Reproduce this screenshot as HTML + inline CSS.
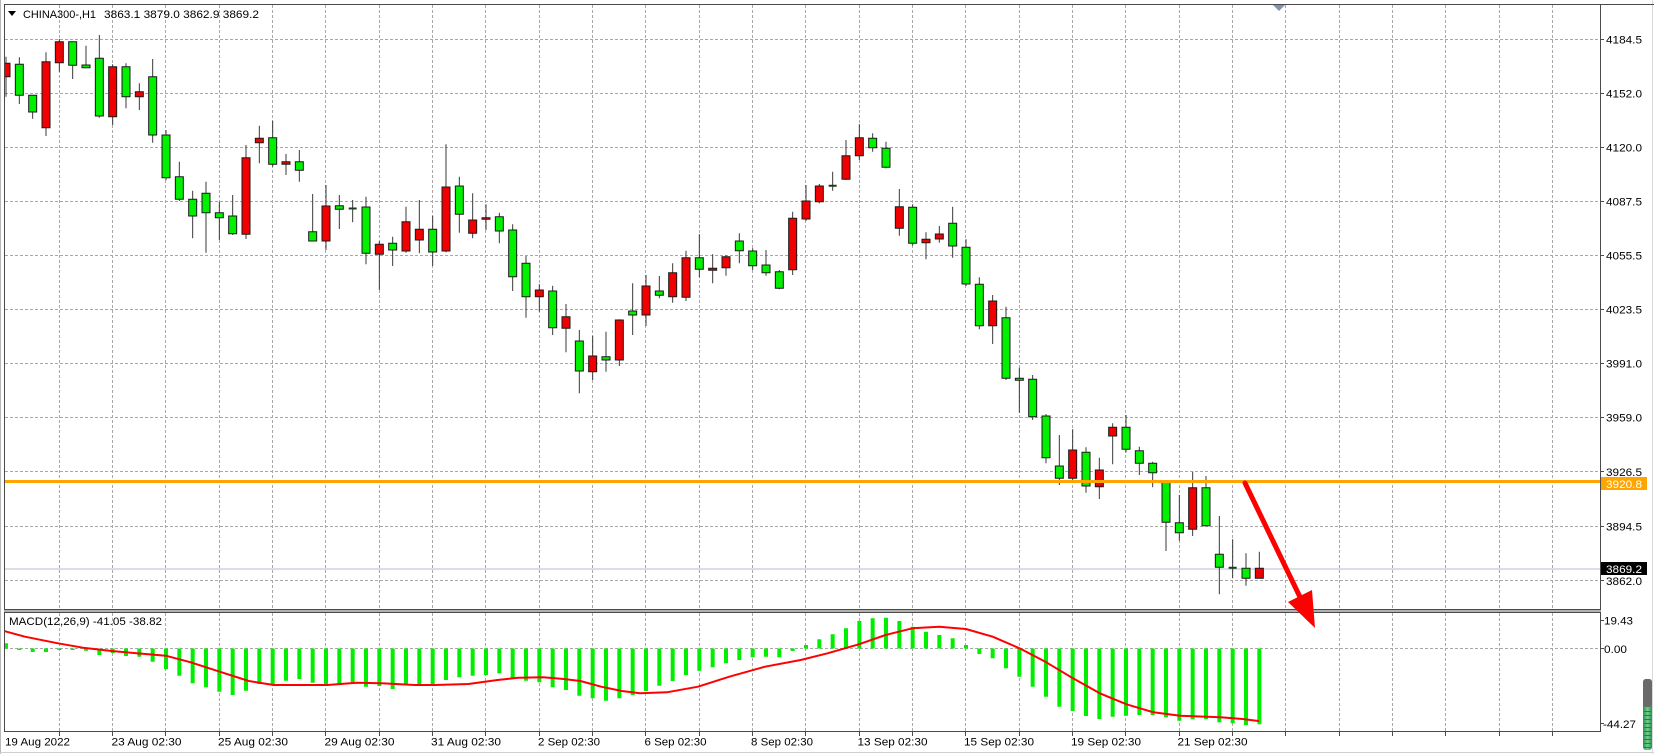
<!DOCTYPE html>
<html>
<head>
<meta charset="utf-8">
<style>
html,body{margin:0;padding:0;background:#fff;}
body{width:1654px;height:754px;overflow:hidden;}
svg{display:block;}
text{font-family:"Liberation Sans",Arial,sans-serif;fill:#000;}
</style>
</head>
<body>
<svg width="1654" height="754" viewBox="0 0 1654 754" xmlns="http://www.w3.org/2000/svg">
<defs>
<clipPath id="main"><rect x="5" y="5" width="1595" height="604"/></clipPath>
<clipPath id="sub"><rect x="5" y="613" width="1595" height="118"/></clipPath>
<linearGradient id="sg" x1="0" x2="1" y1="0" y2="0"><stop offset="0" stop-color="#2f8f4f"/><stop offset="0.5" stop-color="#6fcf8f"/><stop offset="1" stop-color="#2f8f4f"/></linearGradient>
</defs>
<rect x="0" y="0" width="1654" height="754" fill="#fff"/>
<!-- outer frame -->
<line x1="0.5" y1="0" x2="0.5" y2="754" stroke="#b8b8b8"/>
<line x1="0" y1="752.5" x2="1654" y2="752.5" stroke="#d0d0d0"/>
<line x1="1652.5" y1="0" x2="1652.5" y2="754" stroke="#d8d8d8"/>

<!-- grid main -->
<g stroke="#a8a8a8" stroke-width="1" stroke-dasharray="3 2" fill="none">
<path d="M59.5 5V609M112.5 5V609M165.5 5V609M219.5 5V609M272.5 5V609M325.5 5V609M379.5 5V609M432.5 5V609M485.5 5V609M539.5 5V609M592.5 5V609M645.5 5V609M699.5 5V609M752.5 5V609M805.5 5V609M859.5 5V609M912.5 5V609M965.5 5V609M1019.5 5V609M1072.5 5V609M1125.5 5V609M1179.5 5V609M1232.5 5V609M1285.5 5V609M1339.5 5V609M1392.5 5V609M1445.5 5V609M1499.5 5V609M1552.5 5V609"/>
<path d="M59.5 613V731M112.5 613V731M165.5 613V731M219.5 613V731M272.5 613V731M325.5 613V731M379.5 613V731M432.5 613V731M485.5 613V731M539.5 613V731M592.5 613V731M645.5 613V731M699.5 613V731M752.5 613V731M805.5 613V731M859.5 613V731M912.5 613V731M965.5 613V731M1019.5 613V731M1072.5 613V731M1125.5 613V731M1179.5 613V731M1232.5 613V731M1285.5 613V731M1339.5 613V731M1392.5 613V731M1445.5 613V731M1499.5 613V731M1552.5 613V731"/>
<path d="M5 39.5H1600M5 93.5H1600M5 147.5H1600M5 201.5H1600M5 255.5H1600M5 309.5H1600M5 363.5H1600M5 417.5H1600M5 471.5H1600M5 526.5H1600M5 580.5H1600"/>
<path d="M5 648.5H1600"/>
</g>

<!-- current price line -->
<line x1="5" y1="569" x2="1600" y2="569" stroke="#b4bccb" stroke-width="1"/>

<!-- candles -->
<g clip-path="url(#main)">
<g transform="translate(6,0) scale(13.3333,1)">
<path vector-effect="non-scaling-stroke" stroke="#3a3a3a" stroke-width="1" fill="none" d="M0 56.7V96.7M1 57.3V104M2 95.3V118.7M3 52.3V136M4 39V71.7M5 41.7V79M6 45.7V68.3M7 35V117.7M8 64.3V125M9 63.3V108.3M10 83.3V110M11 59V142.7M12 130V180.3M13 161.7V201M14 190.7V238.3M15 181.7V252.7M16 201.7V240M17 195V235M18 145V239M19 125.7V163.3M20 120.7V166.7M21 154V175M22 150V181.7M23 194V241M24 185V250M25 195V229M26 200V222.3M27 196.7V264.3M28 241V290M29 236.7V266M30 206.7V252.7M31 200V253.3M32 215.7V266M33 144.3V252.3M34 176.7V232.7M35 193.3V238.3M36 204.3V230M37 212.7V243.3M38 224.3V291M39 256V317.7M40 284.3V311.7M41 285.7V335M42 304V352.3M43 330V393.3M44 335.7V380M45 331.7V371.7M46 319.3V366M47 283.3V335M48 275V326M49 276V298.3M50 263.3V302.7M51 250.7V301M52 234.3V277.3M53 254.3V283.3M54 255V275.7M55 233.3V263.3M56 248.3V270M57 250V275.7M58 270V289.3M59 211.7V275M60 185V221M61 184V203.3M62 171.7V190.7M63 140V180M64 124.3V160M65 133.3V151.7M66 141.7V168.3M67 189V235.7M68 204.3V245.7M69 232.3V259.3M70 226V242.7M71 206.7V257.7M72 239.3V286M73 277.3V329.3M74 295V344M75 306.7V380M76 367.7V412.7M77 375V420M78 414V463.3M79 435V485M80 429.3V480M81 447.3V492.7M82 457.7V499M83 423.3V464.3M84 415V452.3M85 446.7V475M86 461.7V487.3M87 481.7V551M88 495V540.7M89 471.7V536M90 476V525.7M91 516V594.3M92 539.3V578.3M93 553.3V585.7M94 551.7V578.3"/>
<path vector-effect="non-scaling-stroke" stroke="#1a1a1a" stroke-width="1" fill="#00f000" d="M0.7 64.3h.6V95.3h-.6ZM1.7 95.3h.6V112h-.6ZM4.7 41.7h.6V65.3h-.6ZM5.7 65h.6V67.7h-.6ZM6.7 58.3h.6V116h-.6ZM8.7 66.7h.6V96.7h-.6ZM10.7 76.7h.6V135h-.6ZM11.7 135h.6V177.7h-.6ZM12.7 176.7h.6V199.3h-.6ZM13.7 199.3h.6V216h-.6ZM14.7 193.3h.6V212.7h-.6ZM15.7 212.7h.6V217.7h-.6ZM16.7 216h.6V233.7h-.6ZM19.7 137.7h.6V164.3h-.6ZM21.7 161.7h.6V170.3h-.6ZM22.7 231.7h.6V241h-.6ZM24.7 205.7h.6V209.3h-.6ZM26.7 207h.6V253.3h-.6ZM28.7 243.3h.6V250h-.6ZM31.7 229.3h.6V252h-.6ZM33.7 186h.6V214.3h-.6ZM36.7 216.7h.6V231h-.6ZM37.7 230h.6V276.7h-.6ZM38.7 263.3h.6V296.7h-.6ZM40.7 291h.6V327.7h-.6ZM42.7 341h.6V371h-.6ZM44.7 356.7h.6V360h-.6ZM46.7 311h.6V315h-.6ZM48.7 291h.6V295.3h-.6ZM51.7 257.7h.6V269.3h-.6ZM54.7 241h.6V250.7h-.6ZM55.7 251h.6V265.7h-.6ZM56.7 265h.6V272.7h-.6ZM57.7 271.7h.6V288.3h-.6ZM64.7 138.3h.6V147.7h-.6ZM65.7 148.3h.6V167.3h-.6ZM67.7 207.3h.6V243.3h-.6ZM70.7 223.3h.6V246h-.6ZM71.7 247.3h.6V284h-.6ZM72.7 284.3h.6V325.7h-.6ZM74.7 317.7h.6V378.3h-.6ZM75.7 378.3h.6V380.3h-.6ZM76.7 379.3h.6V416.7h-.6ZM77.7 416h.6V457.7h-.6ZM78.7 466h.6V478.3h-.6ZM80.7 452.3h.6V486h-.6ZM83.7 427.3h.6V449.3h-.6ZM84.7 450.7h.6V463.3h-.6ZM85.7 463.3h.6V472.7h-.6ZM86.7 481.7h.6V522.3h-.6ZM87.7 522.7h.6V532.7h-.6ZM89.7 487.7h.6V525.7h-.6ZM90.7 554.3h.6V567.3h-.6ZM92.7 568.3h.6V578.3h-.6Z"/>
<path vector-effect="non-scaling-stroke" stroke="#1a1a1a" stroke-width="1" fill="#f00000" d="M-0.3 63.3h.6V76.7h-.6ZM2.7 61.7h.6V127.7h-.6ZM3.7 41.7h.6V62.7h-.6ZM7.7 66.7h.6V116.7h-.6ZM9.7 91.7h.6V96.7h-.6ZM17.7 157.7h.6V234.3h-.6ZM18.7 138.3h.6V142.7h-.6ZM20.7 161.7h.6V164.3h-.6ZM23.7 206h.6V241h-.6ZM27.7 244.3h.6V254.3h-.6ZM29.7 221.7h.6V251h-.6ZM30.7 229.3h.6V240h-.6ZM32.7 187h.6V251h-.6ZM34.7 220h.6V233.3h-.6ZM35.7 217.7h.6V219.3h-.6ZM39.7 290h.6V296.7h-.6ZM41.7 316.7h.6V328.3h-.6ZM43.7 356h.6V371.7h-.6ZM45.7 320h.6V360h-.6ZM47.7 286h.6V315h-.6ZM49.7 272.7h.6V296.7h-.6ZM50.7 257.7h.6V297.3h-.6ZM52.7 268.3h.6V270.3h-.6ZM53.7 256.7h.6V267.7h-.6ZM58.7 218.3h.6V269.7h-.6ZM59.7 201h.6V219h-.6ZM60.7 186h.6V201.7h-.6ZM62.7 155.7h.6V179.3h-.6ZM63.7 137.7h.6V155.7h-.6ZM66.7 206.7h.6V228.3h-.6ZM68.7 239.3h.6V242.7h-.6ZM69.7 234h.6V239h-.6ZM73.7 301h.6V325.7h-.6ZM79.7 450h.6V478.3h-.6ZM81.7 470h.6V486.7h-.6ZM82.7 427.3h.6V436h-.6ZM88.7 487.7h.6V529.3h-.6ZM93.7 568.3h.6V578.3h-.6Z"/>
<path vector-effect="non-scaling-stroke" stroke="#1f3a1f" stroke-width="2" fill="none" d="M25.7 208.5h.6M61.7 185.7h.6M91.7 567.7h.6"/>
</g>
</g>

<!-- orange level line -->
<line x1="5" y1="481.5" x2="1600" y2="481.5" stroke="#ffa500" stroke-width="3"/>

<!-- MACD histogram -->
<g clip-path="url(#sub)">
<g transform="translate(6,0) scale(13.3333,1)">
<path vector-effect="non-scaling-stroke" stroke="#00ee00" stroke-width="4" fill="none" d="M0 648.5V643.3M1 648.5V650M2 648.5V652M3 648.5V652M4 648.5V650M5 648.5V650M6 648.5V650.7M7 648.5V655M8 648.5V653M9 648.5V656M10 648.5V656.7M11 648.5V661.7M12 648.5V669M13 648.5V675.7M14 648.5V683.3M15 648.5V687.3M16 648.5V691.7M17 648.5V695M18 648.5V690.7M19 648.5V684M20 648.5V684M21 648.5V680.7M22 648.5V679M23 648.5V682.7M24 648.5V686M25 648.5V684M26 648.5V682.3M27 648.5V686.7M28 648.5V686M29 648.5V689M30 648.5V685M31 648.5V685.7M32 648.5V685M33 648.5V680M34 648.5V677.3M35 648.5V675.7M36 648.5V675M37 648.5V673.3M38 648.5V679M39 648.5V680.7M40 648.5V682.3M41 648.5V687.3M42 648.5V690M43 648.5V695.7M44 648.5V698.3M45 648.5V700.7M46 648.5V698.3M47 648.5V695M48 648.5V691M49 648.5V685.7M50 648.5V681M51 648.5V675M52 648.5V670.7M53 648.5V667.3M54 648.5V663.3M55 648.5V660M56 648.5V657.3M57 648.5V656.7M58 648.5V657.3M59 648.5V651M60 648.5V645M61 648.5V639.3M62 648.5V634.3M63 648.5V628.3M64 648.5V621M65 648.5V618.3M66 648.5V617.7M67 648.5V621M68 648.5V626.7M69 648.5V631.7M70 648.5V635M71 648.5V638.3M72 648.5V645M73 648.5V654M74 648.5V658.3M75 648.5V668.3M76 648.5V676.7M77 648.5V686.7M78 648.5V696.7M79 648.5V706.7M80 648.5V711M81 648.5V716M82 648.5V719M83 648.5V716.7M84 648.5V715.7M85 648.5V715M86 648.5V715M87 648.5V717.3M88 648.5V720.7M89 648.5V719.3M90 648.5V719M91 648.5V722.3M92 648.5V723.3M93 648.5V725M94 648.5V724.3"/>
</g>
<polyline fill="none" stroke="#ff0000" stroke-width="2" stroke-linejoin="round" stroke-linecap="round" points="4.1,631 24.9,636.7 58,643.3 82.9,647.7 111.9,651 136.8,653.3 165.8,655.7 190.7,662.3 219.7,671.7 248.8,681 273.6,685 327.5,685 356.6,682.7 381.4,683.3 414.6,685 435.3,685 468.5,684 497.5,680 518.2,677.7 543.1,677.3 563.8,679 580.4,681 601.2,686.7 621.9,691 640,693.3 666.8,692.3 698,686.7 729.3,676.7 765,666.7 800.7,660 827.5,653.3 858.8,644.3 885.5,635 912.3,628.3 939.1,626.7 965.9,629 992.7,636.7 1019.5,648.3 1046.3,662.3 1073,678.3 1099.8,693.3 1126.6,704.3 1153.4,712.3 1180.2,715.7 1207,716.7 1220.4,717.3 1242.7,719 1258.3,721"/>
</g>

<!-- borders -->
<g stroke="#4a4a4a" stroke-width="1" fill="none">
<line x1="4" y1="4.5" x2="1654" y2="4.5"/>
<line x1="4.5" y1="4" x2="4.5" y2="732"/>
<line x1="1600.5" y1="4" x2="1600.5" y2="732"/>
<line x1="4" y1="609.5" x2="1601" y2="609.5"/>
<line x1="4" y1="612.5" x2="1601" y2="612.5"/>
<line x1="4" y1="731.5" x2="1601" y2="731.5"/>
</g>
<line x1="4" y1="611" x2="1601" y2="611" stroke="#b0b0b0" stroke-width="2"/>

<!-- chart shift marker -->
<polygon points="1273,5 1285,5 1279,11" fill="#8593a6"/>

<!-- date ticks -->
<path stroke="#4a4a4a" stroke-width="1" d="M59.5 732V736M112.5 732V736M165.5 732V736M219.5 732V736M272.5 732V736M325.5 732V736M379.5 732V736M432.5 732V736M485.5 732V736M539.5 732V736M592.5 732V736M645.5 732V736M699.5 732V736M752.5 732V736M805.5 732V736M859.5 732V736M912.5 732V736M965.5 732V736M1019.5 732V736M1072.5 732V736M1125.5 732V736M1179.5 732V736M1232.5 732V736M1285.5 732V736M1339.5 732V736M1392.5 732V736M1445.5 732V736M1499.5 732V736M1552.5 732V736"/>

<!-- price axis ticks -->
<path stroke="#4a4a4a" stroke-width="1" d="M1600 39.5H1604M1600 93.5H1604M1600 147.5H1604M1600 201.5H1604M1600 255.5H1604M1600 309.5H1604M1600 363.5H1604M1600 417.5H1604M1600 471.5H1604M1600 526.5H1604M1600 580.5H1604M1600 620.5H1604M1600 648.5H1604M1600 723.5H1604"/>

<!-- header -->
<polygon points="8,11 16,11 12,16" fill="#000"/>
<text x="23" y="18" font-size="11" textLength="73" lengthAdjust="spacingAndGlyphs">CHINA300-,H1</text>
<text x="104" y="18" font-size="11" textLength="155" lengthAdjust="spacingAndGlyphs">3863.1 3879.0 3862.9 3869.2</text>

<!-- MACD label -->
<text x="9" y="625" font-size="11" textLength="153" lengthAdjust="spacingAndGlyphs">MACD(12,26,9) -41.05 -38.82</text>

<!-- price labels -->
<g font-size="11">
<text x="1606" y="43.5" textLength="36" lengthAdjust="spacingAndGlyphs">4184.5</text>
<text x="1606" y="97.5" textLength="36" lengthAdjust="spacingAndGlyphs">4152.0</text>
<text x="1606" y="151.5" textLength="36" lengthAdjust="spacingAndGlyphs">4120.0</text>
<text x="1606" y="205.5" textLength="36" lengthAdjust="spacingAndGlyphs">4087.5</text>
<text x="1606" y="259.5" textLength="36" lengthAdjust="spacingAndGlyphs">4055.5</text>
<text x="1606" y="313.5" textLength="36" lengthAdjust="spacingAndGlyphs">4023.5</text>
<text x="1606" y="367.5" textLength="36" lengthAdjust="spacingAndGlyphs">3991.0</text>
<text x="1606" y="421.5" textLength="36" lengthAdjust="spacingAndGlyphs">3959.0</text>
<text x="1606" y="476" textLength="36" lengthAdjust="spacingAndGlyphs">3926.5</text>
<text x="1606" y="530.5" textLength="36" lengthAdjust="spacingAndGlyphs">3894.5</text>
<text x="1606" y="585" textLength="36" lengthAdjust="spacingAndGlyphs">3862.0</text>
</g>
<rect x="1601" y="477" width="46" height="13" fill="#ffa500"/>
<text x="1606" y="488" font-size="11" textLength="36" lengthAdjust="spacingAndGlyphs" style="fill:#fff">3920.8</text>
<rect x="1601" y="562" width="46" height="13" fill="#000"/>
<text x="1606" y="573" font-size="11" textLength="36" lengthAdjust="spacingAndGlyphs" style="fill:#fff">3869.2</text>

<!-- MACD axis labels -->
<g font-size="11">
<text x="1604" y="624.5" textLength="29" lengthAdjust="spacingAndGlyphs">19.43</text>
<text x="1604" y="653" textLength="23" lengthAdjust="spacingAndGlyphs">0.00</text>
<text x="1603" y="728" textLength="33" lengthAdjust="spacingAndGlyphs">-44.27</text>
</g>

<!-- date labels -->
<g font-size="11">
<text x="5" y="745.5" textLength="65" lengthAdjust="spacingAndGlyphs">19 Aug 2022</text>
<text x="111.5" y="745.5" textLength="70" lengthAdjust="spacingAndGlyphs">23 Aug 02:30</text>
<text x="218" y="745.5" textLength="70" lengthAdjust="spacingAndGlyphs">25 Aug 02:30</text>
<text x="324.5" y="745.5" textLength="70" lengthAdjust="spacingAndGlyphs">29 Aug 02:30</text>
<text x="431" y="745.5" textLength="70" lengthAdjust="spacingAndGlyphs">31 Aug 02:30</text>
<text x="538" y="745.5" textLength="62" lengthAdjust="spacingAndGlyphs">2 Sep 02:30</text>
<text x="644.5" y="745.5" textLength="62" lengthAdjust="spacingAndGlyphs">6 Sep 02:30</text>
<text x="751" y="745.5" textLength="62" lengthAdjust="spacingAndGlyphs">8 Sep 02:30</text>
<text x="857.5" y="745.5" textLength="70" lengthAdjust="spacingAndGlyphs">13 Sep 02:30</text>
<text x="964" y="745.5" textLength="70" lengthAdjust="spacingAndGlyphs">15 Sep 02:30</text>
<text x="1071" y="745.5" textLength="70" lengthAdjust="spacingAndGlyphs">19 Sep 02:30</text>
<text x="1177.5" y="745.5" textLength="70" lengthAdjust="spacingAndGlyphs">21 Sep 02:30</text>
</g>

<!-- red arrow -->
<line x1="1245" y1="483" x2="1300" y2="597" stroke="#ff0000" stroke-width="5" stroke-linecap="round"/>
<polygon points="1288,602 1312,590 1315,628" fill="#ff0000"/>

<!-- scroll widget -->
<rect x="1643" y="679" width="9" height="71" rx="3" fill="url(#sg)"/>
<rect x="1643" y="679" width="9" height="28" rx="3" fill="#6a6a6a"/>
<path stroke="#2a7a45" stroke-width="1" d="M1644 711.5h7M1644 715.5h7M1644 719.5h7M1644 723.5h7M1644 727.5h7M1644 731.5h7M1644 735.5h7M1644 739.5h7M1644 743.5h7M1644 747.5h7"/>
</svg>
</body>
</html>
